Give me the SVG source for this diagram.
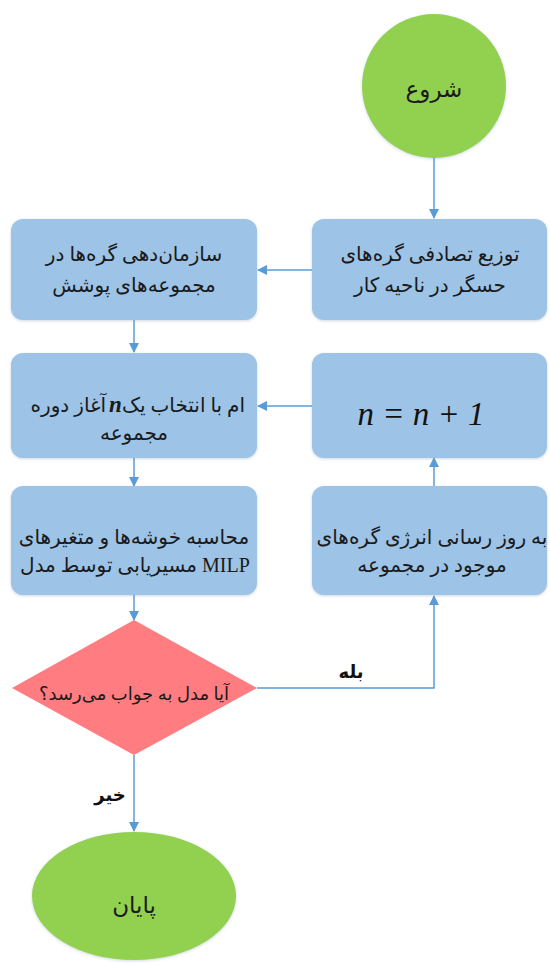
<svg xmlns="http://www.w3.org/2000/svg" width="550" height="965" viewBox="0 0 550 965">
<defs>
<marker id="ah" markerWidth="10" markerHeight="10" refX="9" refY="5" orient="auto" markerUnits="userSpaceOnUse">
<path d="M0,0 L10,5 L0,10 Z" fill="#5b9bd5"/>
</marker>
<filter id="sh" x="-10%" y="-10%" width="120%" height="120%">
<feDropShadow dx="0" dy="1" stdDeviation="1.5" flood-color="#7a8fa6" flood-opacity="0.35"/>
</filter>
</defs>
<style>
.box{fill:#9dc3e6;filter:url(#sh)}
.term{fill:#92d050;filter:url(#sh)}
.dec{fill:#ff7c80}
.t{font-family:"Liberation Serif","DejaVu Sans",serif;font-size:20px;fill:#1a1a1a;text-anchor:middle}
.s{text-anchor:start}
.e{text-anchor:end}
.lbl{font-family:"Liberation Serif","DejaVu Sans",serif;font-size:18px;font-weight:bold;fill:#111;text-anchor:middle}
.eq{font-family:"Liberation Serif",serif;font-size:33px;font-style:italic;fill:#111;text-anchor:middle}
.c{fill:none;stroke:#5b9bd5;stroke-width:1.5}
</style>
<rect width="550" height="965" fill="#ffffff"/>
<g id="connectors">
<line class="c" x1="434" y1="157" x2="434" y2="218" marker-end="url(#ah)"/>
<line class="c" x1="312" y1="270" x2="258" y2="270" marker-end="url(#ah)"/>
<line class="c" x1="134" y1="320" x2="134" y2="352" marker-end="url(#ah)"/>
<line class="c" x1="312" y1="406" x2="258" y2="406" marker-end="url(#ah)"/>
<line class="c" x1="134" y1="457" x2="134" y2="486" marker-end="url(#ah)"/>
<line class="c" x1="434" y1="487" x2="434" y2="458" marker-end="url(#ah)"/>
<line class="c" x1="134" y1="595" x2="134" y2="620" marker-end="url(#ah)"/>
<polyline class="c" points="257,688 434,688 434,596" marker-end="url(#ah)"/>
<line class="c" x1="134" y1="755" x2="134" y2="831" marker-end="url(#ah)"/>
<text class="lbl" x="351" y="678">بله</text>
<text class="lbl" x="110" y="801">خیر</text>
</g>
<g id="start">
<circle class="term" cx="434" cy="86" r="72"/>
<text class="t" x="434" y="97" style="font-size:23px">شروع</text>
</g>
<g id="distribute">
<rect class="box" x="312" y="219" width="235" height="101" rx="12"/>
<text class="t" x="430" y="261">توزیع تصادفی گره‌های</text>
<text class="t" x="430" y="292">حسگر در ناحیه کار</text>
</g>
<g id="organize">
<rect class="box" x="11" y="219" width="246" height="101" rx="12"/>
<text class="t" x="134" y="261">سازمان‌دهی گره‌ها در</text>
<text class="t" x="134" y="292">مجموعه‌های پوشش</text>
</g>
<g id="increment">
<rect class="box" x="312" y="353" width="235" height="105" rx="12"/>
<text class="eq" x="421" y="425">n = n + 1</text>
</g>
<g id="round">
<rect class="box" x="11" y="353" width="246" height="105" rx="12"/>
<text class="t e" x="106" y="412">آغاز دوره</text>
<text class="t s" x="109" y="412" style="font-family:'Liberation Serif',serif;font-style:italic;font-weight:bold;font-size:23px">n</text>
<text class="t s" x="122" y="412">ام با انتخاب یک</text>
<text class="t" x="134" y="440">مجموعه</text>
</g>
<g id="update">
<rect class="box" x="312" y="486" width="235" height="109" rx="12"/>
<text class="t" x="432" y="544">به روز رسانی انرژی گره‌های</text>
<text class="t" x="432" y="572">موجود در مجموعه</text>
</g>
<g id="compute">
<rect class="box" x="11" y="486" width="246" height="109" rx="12"/>
<text class="t" x="134" y="544">محاسبه خوشه‌ها و متغیرهای</text>
<text class="t e" x="197" y="572">مسیریابی توسط مدل</text>
<text class="t s" x="202" y="572">MILP</text>
</g>
<g id="decision">
<polygon class="dec" points="134,620 257,688 134,755 12,688"/>
<text class="t" x="134" y="700" style="font-size:18px">آیا مدل به جواب می‌رسد؟</text>
</g>
<g id="end">
<ellipse class="term" cx="134" cy="896" rx="102" ry="64"/>
<text class="t" x="134" y="913" style="font-size:23px">پایان</text>
</g>
</svg>
